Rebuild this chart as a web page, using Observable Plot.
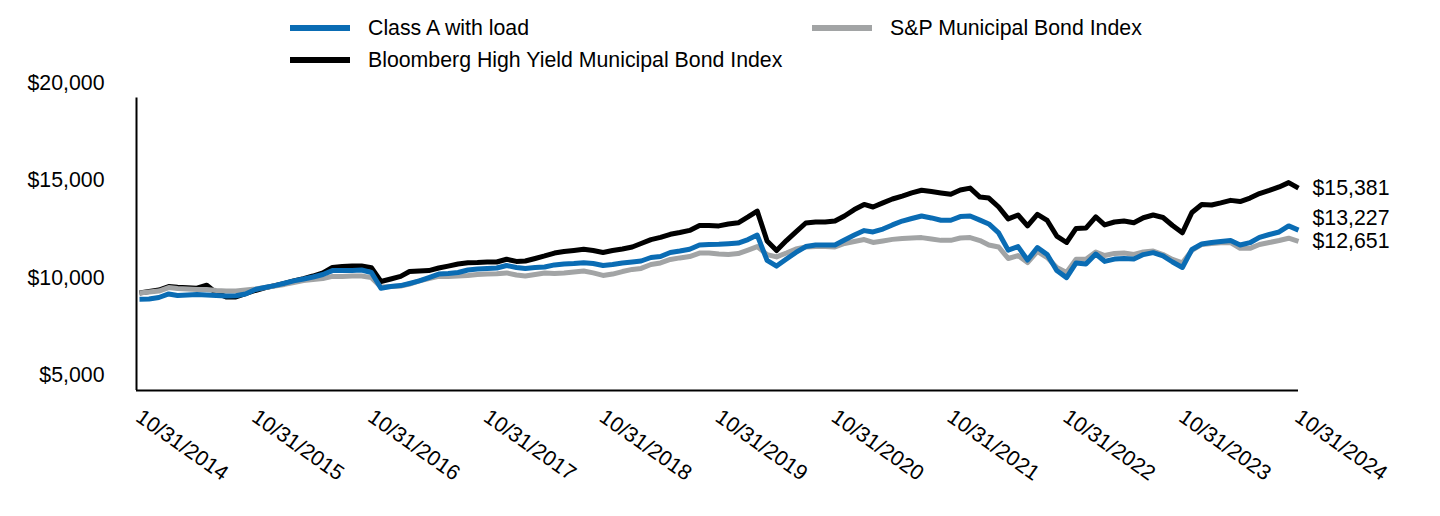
<!DOCTYPE html>
<html>
<head>
<meta charset="utf-8">
<script src="https://cdn.jsdelivr.net/npm/d3@7"></script>
<script src="https://cdn.jsdelivr.net/npm/@observablehq/plot@0.6"></script>
<style>
  html, body { margin: 0; padding: 0; background: #fff; }
  body { width: 1440px; height: 516px; position: relative; overflow: hidden;
         font-family: "Liberation Sans", Arial, sans-serif; }
  #chart { position: absolute; left: 0; top: 0; }
  .sw { position: absolute; width: 60px; height: 6px; }
  .lt { position: absolute; font-size: 21.3px; line-height: 24px; color: #000; white-space: nowrap; }
</style>
</head>
<body>
<div id="chart"></div>
<div id="legend"></div>
<script>
// ---- data ----
const seriesNames = ["Class A with load", "Bloomberg High Yield Municipal Bond Index", "S&P Municipal Bond Index"];
const seriesColors = ["#0a6cb4", "#000000", "#a2a4a5"];

// monthly values, 10/31/2014 .. 10/31/2024
const classA = [
  9680,9690,9770,9950,9870,9900,9920,9900,9870,9850,9860,9950,
  10180,10280,10380,10500,10620,10720,10820,10950,11150,11150,11160,11180,
  11050,10240,10330,10380,10490,10620,10790,10970,11000,11050,11180,11230,
  11260,11280,11410,11310,11260,11310,11330,11440,11490,11510,11550,11510,
  11410,11460,11540,11590,11640,11820,11870,12080,12150,12240,12460,12490,
  12500,12530,12560,12740,12970,11670,11380,11740,12080,12380,12460,12460,
  12460,12720,12970,13200,13130,13280,13490,13690,13820,13950,13850,13730,
  13730,13920,13950,13740,13540,13080,12200,12380,11690,12330,11970,11150,
  10790,11540,11490,12000,11620,11740,11770,11740,11970,12070,11900,11590,
  11310,12230,12510,12590,12640,12690,12460,12580,12850,13000,13130,13440,
  13227
];
const bloombergHY = [
  10000,10080,10150,10330,10290,10270,10250,10400,10000,9800,9800,9970,
  10130,10260,10380,10490,10620,10740,10870,11030,11310,11360,11380,11380,
  11300,10590,10720,10850,11100,11130,11150,11280,11380,11490,11550,11560,
  11590,11590,11730,11620,11640,11770,11900,12050,12130,12180,12240,12180,
  12080,12180,12260,12360,12540,12740,12850,13010,13100,13210,13460,13460,
  13440,13540,13600,13900,14200,12670,12180,12690,13130,13590,13640,13640,
  13690,13950,14280,14540,14410,14620,14820,14970,15130,15270,15200,15130,
  15060,15280,15380,14920,14870,14410,13800,14000,13440,14030,13720,12920,
  12590,13310,13330,13900,13490,13640,13690,13600,13860,14000,13870,13460,
  13090,14130,14540,14510,14620,14750,14690,14870,15100,15260,15440,15660,
  15381
];
const spMuni = [
  10000,10050,10100,10280,10230,10210,10180,10180,10130,10100,10100,10150,
  10210,10280,10360,10440,10540,10640,10690,10740,10850,10850,10870,10870,
  10790,10310,10330,10360,10460,10620,10740,10850,10850,10870,10900,10950,
  10970,10990,11030,10920,10870,10950,11030,11000,11030,11080,11130,11030,
  10900,10970,11100,11210,11260,11460,11540,11720,11800,11870,12050,12050,
  12000,11980,12020,12200,12380,11970,11850,12050,12260,12360,12380,12380,
  12360,12540,12640,12740,12590,12670,12750,12800,12820,12840,12770,12700,
  12700,12820,12840,12690,12460,12360,11770,11920,11560,12130,11820,11310,
  11050,11730,11730,12100,11920,12030,12050,11980,12100,12150,11970,11720,
  11550,12180,12490,12540,12580,12580,12290,12290,12490,12590,12690,12810,
  12651
];
const endLabels = ["$13,227", "$15,381", "$12,651"];
const yTicks = [5000, 10000, 15000, 20000];
const xTickYears = [2014, 2015, 2016, 2017, 2018, 2019, 2020, 2021, 2022, 2023, 2024];

// ---- build ----
const monthEnd = i => d3.utcDay.offset(d3.utcMonth.offset(new Date(Date.UTC(2014, 10, 1)), i), -1);
const dates = classA.map((_, i) => monthEnd(i));
const values = [classA, bloombergHY, spMuni];
const tables = values.map((arr, s) => arr.map((v, i) => ({date: dates[i], value: v, series: seriesNames[s]})));
const xTicks = xTickYears.map(y => new Date(Date.UTC(y, 9, 31)));
const fmtDate = d3.utcFormat("%m/%d/%Y");
const fmtMoney = d => "$" + d3.format(",")(d);
const drawOrder = [1, 2, 0];
const endShift = [-12, 0, 0];
const FS = 21.3;

const chart = Plot.plot({
  width: 1440,
  height: 516,
  marginLeft: 136,
  marginRight: 142,
  marginTop: 97.5,
  marginBottom: 126,
  style: {fontFamily: "'Liberation Sans', Arial, sans-serif", fontSize: FS + "px", color: "#000", background: "transparent"},
  x: {type: "utc", domain: [dates[0], dates[dates.length - 1]], insetLeft: 3, axis: null},
  y: {domain: [5000, 20000], axis: null},
  marks: [
    ...drawOrder.map(s => Plot.line(tables[s], {
      x: "date", y: "value", stroke: seriesColors[s], strokeWidth: 5,
      strokeLinejoin: "round", strokeLinecap: "butt"
    })),
    Plot.ruleY([5000], {stroke: "#000", strokeWidth: 2}),
    Plot.ruleX([dates[0]], {y1: 5000, y2: 20000, dx: -3, stroke: "#000", strokeWidth: 2}),
    Plot.axisY(yTicks, {anchor: "left", label: null, tickSize: 0, tickPadding: 32, dy: -15, tickFormat: fmtMoney, fontSize: FS, fill: "#000"}),
    Plot.text(xTicks, {x: d => d, y: () => 5000, text: d => fmtDate(d), rotate: 35, textAnchor: "start", lineAnchor: "middle", dx: -1, dy: 24, fontSize: FS, fill: "#000"}),
    ...[0, 1, 2].map(s => Plot.text([values[s][values[s].length - 1]], {
      x: () => dates[dates.length - 1], y: d => d, text: () => endLabels[s],
      textAnchor: "start", dx: 14, dy: endShift[s], fontSize: FS, fill: "#000"
    }))
  ]
});
document.getElementById("chart").appendChild(chart);

// ---- legend ----
const legendItems = [
  {s: 0, sx: 290, sy: 28},
  {s: 1, sx: 290, sy: 60},
  {s: 2, sx: 812, sy: 28}
];
const leg = document.getElementById("legend");
legendItems.forEach(({s, sx, sy}) => {
  const sw = document.createElement("div");
  sw.className = "sw";
  sw.style.left = sx + "px";
  sw.style.top = (sy - 3) + "px";
  sw.style.background = seriesColors[s];
  leg.appendChild(sw);
  const t = document.createElement("div");
  t.className = "lt";
  t.style.left = (sx + 78) + "px";
  t.style.top = (sy - 12) + "px";
  t.textContent = seriesNames[s];
  leg.appendChild(t);
});
</script>
</body>
</html>
